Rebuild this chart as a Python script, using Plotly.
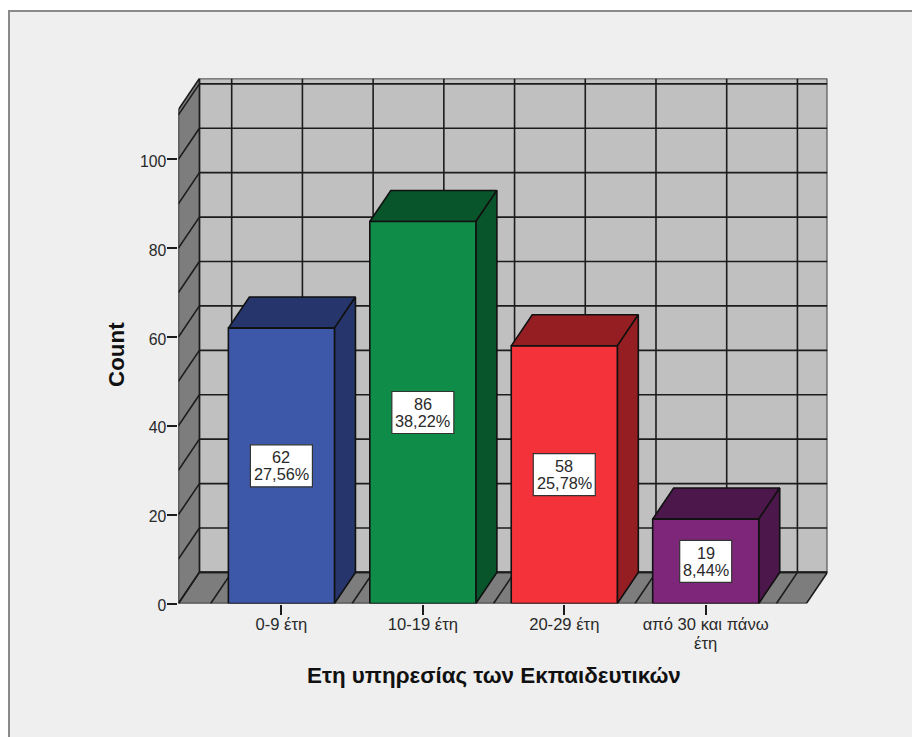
import plotly.graph_objects as go

# Teachers by years of service
categories = ["0-9 έτη", "10-19 έτη", "20-29 έτη", "από 30 και πάνω"]
wrapped_tail = "έτη"
counts = [62, 86, 58, 19]
percent_labels = ["27,56%", "38,22%", "25,78%", "8,44%"]
y_ticks = [0, 20, 40, 60, 80, 100]
wall_grid_values = [0, 10, 20, 30, 40, 50, 60, 70, 80, 90, 100, 110]
wall_grid_positions = [-0.5, 0, 0.5, 1, 1.5, 2, 2.5, 3, 3.5]

front_colors = ["#3d58a9", "#0f8c48", "#f43239", "#7e267a"]
shade_colors = ["#26356b", "#08552b", "#951e22", "#4c174a"]

# Box geometry in axis units: oblique depth offset, half bar width, wall extents
DEPTH_X = 0.1485
DEPTH_Y = 7.0
HALF_BAR = 0.375
X_MIN = -0.7284
X_MAX = 3.712
WALL_TOP = 111.2

WIDTH, HEIGHT = 912, 737
FONT = "Liberation Sans, Arial, sans-serif"
TEXT = "#2a2a2a"
INK = "#1c1c1c"

fig = go.Figure()


def polygon(xs, ys, fill, line=INK, width=1.6):
    fig.add_trace(go.Scatter(
        x=xs + xs[:1], y=ys + ys[:1], mode="lines", fill="toself", fillcolor=fill,
        line=dict(color=line, width=width), hoverinfo="skip", cliponaxis=False,
        showlegend=False,
    ))


def segments(pairs, width=1.6):
    xs, ys = [], []
    for (x0, y0), (x1, y1) in pairs:
        xs += [x0, x1, None]
        ys += [y0, y1, None]
    fig.add_trace(go.Scatter(
        x=xs, y=ys, mode="lines", line=dict(color=INK, width=width),
        hoverinfo="skip", cliponaxis=False, showlegend=False,
    ))


# Back wall, side wall and floor of the oblique box
polygon([X_MIN + DEPTH_X, X_MAX + DEPTH_X, X_MAX + DEPTH_X, X_MIN + DEPTH_X],
        [DEPTH_Y, DEPTH_Y, WALL_TOP + DEPTH_Y, WALL_TOP + DEPTH_Y], "#c0c0c0")
polygon([X_MIN, X_MIN + DEPTH_X, X_MIN + DEPTH_X, X_MIN],
        [0, DEPTH_Y, WALL_TOP + DEPTH_Y, WALL_TOP], "#7d7d7d")
polygon([X_MIN, X_MAX, X_MAX + DEPTH_X, X_MIN + DEPTH_X],
        [0, 0, DEPTH_Y, DEPTH_Y], "#7d7d7d")

# Grid wrapping round the side wall and the back wall
grid = []
for v in wall_grid_values:
    grid.append(((X_MIN, v), (X_MIN + DEPTH_X, v + DEPTH_Y)))
    grid.append(((X_MIN + DEPTH_X, v + DEPTH_Y), (X_MAX + DEPTH_X, v + DEPTH_Y)))
for p in wall_grid_positions:
    grid.append(((p, 0), (p + DEPTH_X, DEPTH_Y)))
    grid.append(((p + DEPTH_X, DEPTH_Y), (p + DEPTH_X, WALL_TOP + DEPTH_Y)))
segments(grid)

# Bars: shaded top and side faces, then the front face
for i, value in enumerate(counts):
    left, right = i - HALF_BAR, i + HALF_BAR
    polygon([left, right, right + DEPTH_X, left + DEPTH_X],
            [value, value, value + DEPTH_Y, value + DEPTH_Y], shade_colors[i], line="#111111")
    polygon([right, right + DEPTH_X, right + DEPTH_X, right],
            [0, DEPTH_Y, value + DEPTH_Y, value], shade_colors[i], line="#111111")
    polygon([left, right, right, left], [0, 0, value, value], front_colors[i], line="#111111")

# White value boxes centred on each bar
shapes = [dict(
    type="rect", xref="paper", yref="paper", layer="below",
    x0=9 / WIDTH, x1=1.02, y0=-0.02, y1=(HEIGHT - 11) / HEIGHT,
    fillcolor="#efefef", line=dict(color="#8a8a8a", width=2),
)]
annotations = []
for i, value in enumerate(counts):
    half_w = 31 if len(percent_labels[i]) > 5 else 26
    shapes.append(dict(
        type="rect", xref="x", yref="y", xsizemode="pixel", ysizemode="pixel",
        xanchor=i, yanchor=value / 2, x0=-half_w, x1=half_w, y0=-21, y1=21,
        fillcolor="white", line=dict(color="#333333", width=1.2), layer="above",
    ))
    for text, shift in ((str(value), 8.5), (percent_labels[i], -8.5)):
        annotations.append(dict(
            x=i, y=value / 2, xref="x", yref="y", text=text, showarrow=False,
            xanchor="center", yanchor="middle", yshift=shift,
            font=dict(family=FONT, size=16.3, color=TEXT),
        ))

# Second line of the last category label
annotations.append(dict(
    x=3, y=0, xref="x", yref="y", text=wrapped_tail, showarrow=False,
    xanchor="center", yanchor="middle", yshift=-40,
    font=dict(family=FONT, size=16.6, color=TEXT),
))

# Axis titles, placed off-centre relative to the plot area
annotations.append(dict(
    x=494 / WIDTH, y=(HEIGHT - 675) / HEIGHT, xref="paper", yref="paper",
    xanchor="center", yanchor="middle",
    text="<b>Ετη υπηρεσίας των Εκπαιδευτικών</b>", showarrow=False,
    font=dict(family=FONT, size=22.4, color="#111111"),
))
annotations.append(dict(
    x=116 / WIDTH, y=(HEIGHT - 355) / HEIGHT, xref="paper", yref="paper",
    xanchor="center", yanchor="middle",
    text="<b>Count</b>", showarrow=False, textangle=-90,
    font=dict(family=FONT, size=22.4, color="#111111"),
))

fig.update_layout(
    width=WIDTH, height=HEIGHT, margin=dict(l=0, r=0, t=0, b=0, autoexpand=False),
    paper_bgcolor="white", plot_bgcolor="rgba(0,0,0,0)", showlegend=False,
    shapes=shapes, annotations=annotations,
    font=dict(family=FONT, size=16, color=TEXT),
    xaxis=dict(
        domain=[178.4 / WIDTH, 827.4 / WIDTH], range=[X_MIN, X_MAX + DEPTH_X],
        tickmode="array", tickvals=list(range(len(categories))), ticktext=categories,
        ticks="outside", ticklen=10, tickwidth=1.6, tickcolor=INK,
        tickfont=dict(family=FONT, size=16.6, color=TEXT), ticklabelstandoff=-4,
        showgrid=False, zeroline=False, showline=False,
    ),
    yaxis=dict(
        domain=[(HEIGHT - 603.5) / HEIGHT, (HEIGHT - 78.5) / HEIGHT],
        range=[0, WALL_TOP + DEPTH_Y],
        tickmode="array", tickvals=y_ticks,
        ticks="outside", ticklen=10, tickwidth=1.6, tickcolor=INK,
        tickfont=dict(family=FONT, size=15.8, color=TEXT),
        ticklabelstandoff=-2, ticklabelshift=2,
        showgrid=False, zeroline=False, showline=False,
    ),
)

fig.write_html("out.html")
